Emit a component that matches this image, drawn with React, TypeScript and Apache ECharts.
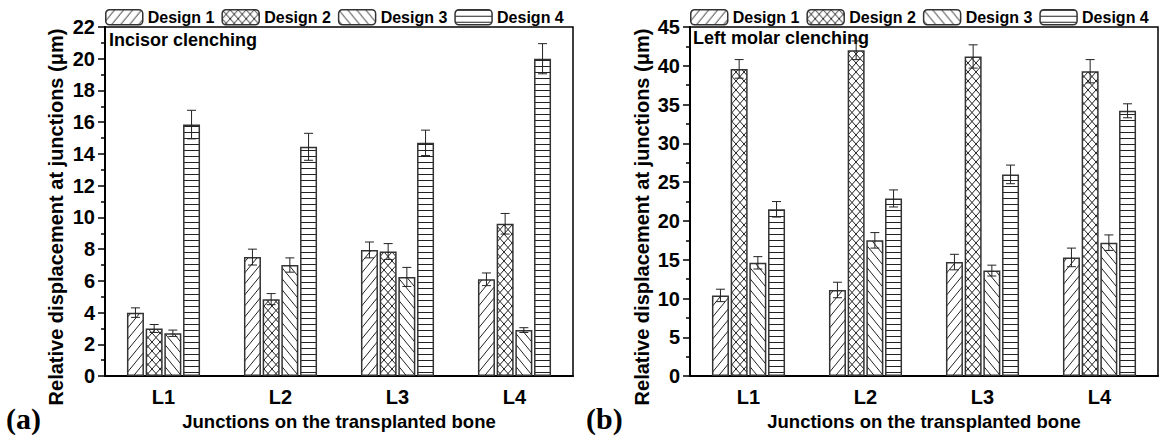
import React, { useEffect, useRef } from "react";
import * as echarts from "echarts";

const categories = ["L1", "L2", "L3", "L4"];
const designNames = ["Design 1", "Design 2", "Design 3", "Design 4"];

// Panel (a) Incisor clenching
const incisorD1 = [4.0, 7.5, 7.95, 6.1];
const incisorD2 = [3.0, 4.85, 7.85, 9.6];
const incisorD3 = [2.7, 7.0, 6.25, 2.9];
const incisorD4 = [15.85, 14.45, 14.7, 20.0];
const incisorErrD1 = [0.3, 0.5, 0.5, 0.4];
const incisorErrD2 = [0.25, 0.35, 0.5, 0.65];
const incisorErrD3 = [0.2, 0.45, 0.6, 0.15];
const incisorErrD4 = [0.9, 0.85, 0.8, 0.95];

// Panel (b) Left molar clenching
const molarD1 = [10.4, 11.1, 14.7, 15.3];
const molarD2 = [39.6, 42.0, 41.2, 39.3];
const molarD3 = [14.6, 17.5, 13.6, 17.2];
const molarD4 = [21.5, 22.9, 26.0, 34.2];
const molarErrD1 = [0.8, 1.0, 1.0, 1.2];
const molarErrD2 = [1.2, 1.2, 1.5, 1.5];
const molarErrD3 = [0.8, 1.0, 0.7, 1.0];
const molarErrD4 = [1.0, 1.1, 1.2, 0.9];

const yTitle = "Relative displacement at junctions (\u03bcm)";
const xTitle = "Junctions on the transplanted bone";

const FONT = "'Liberation Sans', Arial, Helvetica, sans-serif";
const SERIF = "'Liberation Serif', 'Times New Roman', serif";
const BAR_W = 17;
const BAR_GAP = 0.1;
const SPACING = BAR_W * (1 + BAR_GAP);

function makePattern(kind: string): HTMLCanvasElement {
  const c = document.createElement("canvas");
  let w = 9, h = 11;
  if (kind === "cross") { w = 8; h = 9; }
  if (kind === "horiz") { w = 6; h = 6; }
  c.width = w; c.height = h;
  const ctx = c.getContext("2d")!;
  ctx.fillStyle = "#fff";
  ctx.fillRect(0, 0, w, h);
  ctx.strokeStyle = "#222";
  ctx.lineWidth = 1;
  const fwd = () => {
    for (const o of [-w, 0, w]) {
      ctx.beginPath();
      ctx.moveTo(o, h);
      ctx.lineTo(o + w, 0);
      ctx.stroke();
    }
  };
  const back = () => {
    for (const o of [-w, 0, w]) {
      ctx.beginPath();
      ctx.moveTo(o, 0);
      ctx.lineTo(o + w, h);
      ctx.stroke();
    }
  };
  if (kind === "fwd") fwd();
  else if (kind === "back") back();
  else if (kind === "cross") { fwd(); back(); }
  else if (kind === "horiz") {
    ctx.beginPath();
    ctx.moveTo(0, 0.5);
    ctx.lineTo(w, 0.5);
    ctx.stroke();
  }
  return c;
}

export default function App() {
  const ref = useRef<HTMLDivElement>(null);
  useEffect(() => {
    if (!ref.current) return;
    const chart = echarts.init(ref.current, undefined, { renderer: "svg" });
    const patterns = ["fwd", "cross", "back", "horiz"].map((k) => ({
      image: makePattern(k),
      repeat: "repeat",
    }));

    const panels = [
      {
        values: [incisorD1, incisorD2, incisorD3, incisorD4],
        errs: [incisorErrD1, incisorErrD2, incisorErrD3, incisorErrD4],
        max: 22, interval: 2, left: 105,
      },
      {
        values: [molarD1, molarD2, molarD3, molarD4],
        errs: [molarErrD1, molarErrD2, molarErrD3, molarErrD4],
        max: 45, interval: 5, left: 690,
      },
    ];

    const series: any[] = [];
    panels.forEach((p, pi) => {
      p.values.forEach((vals, d) => {
        series.push({
          type: "bar",
          name: designNames[d],
          xAxisIndex: pi,
          yAxisIndex: pi,
          data: vals,
          barWidth: BAR_W,
          barGap: "10%",
          itemStyle: { color: patterns[d], borderColor: "#333", borderWidth: 1.5 },
          emphasis: { disabled: true },
        });
      });
      const errData: number[][] = [];
      p.values.forEach((vals, d) => {
        vals.forEach((v, ci) => errData.push([ci, v, p.errs[d][ci], d]));
      });
      series.push({
        type: "custom",
        xAxisIndex: pi,
        yAxisIndex: pi,
        z: 10,
        data: errData,
        renderItem: (params: any, api: any) => {
          const ci = api.value(0), v = api.value(1), e = api.value(2), d = api.value(3);
          const top = api.coord([ci, v + e]);
          const bot = api.coord([ci, v - e]);
          const x = top[0] + (d - 1.5) * SPACING;
          const cap = 4.5;
          const style = { stroke: "#222", lineWidth: 1 };
          return {
            type: "group",
            children: [
              { type: "line", shape: { x1: x, y1: top[1], x2: x, y2: bot[1] }, style },
              { type: "line", shape: { x1: x - cap, y1: top[1], x2: x + cap, y2: top[1] }, style },
              { type: "line", shape: { x1: x - cap, y1: bot[1], x2: x + cap, y2: bot[1] }, style },
            ],
          };
        },
      });
    });

    const option: any = {
      animation: false,
      backgroundColor: "#fff",
      textStyle: { fontFamily: FONT },
      grid: panels.map((p) => ({
        left: p.left, top: 27, width: 468, height: 351,
        show: true, borderColor: "#000", borderWidth: 1.5,
      })),
      legend: panels.map((p) => ({
        left: p.left, top: 9,
        padding: 0,
        width: 480,
        data: designNames,
        itemWidth: 37, itemHeight: 15, itemGap: 7,
        selectedMode: false,
        itemStyle: { borderColor: "#333", borderWidth: 1.5 },
        textStyle: { fontFamily: FONT, fontWeight: "bold", fontSize: 16, color: "#000" },
      })),
      xAxis: panels.map((p, pi) => ({
        type: "category",
        gridIndex: pi,
        data: categories,
        axisLine: { lineStyle: { color: "#000", width: 2 } },
        axisTick: { alignWithLabel: true, length: 6, lineStyle: { color: "#000", width: 1.5 } },
        axisLabel: { fontFamily: FONT, fontWeight: "bold", fontSize: 20, color: "#000", margin: 11 },
        name: xTitle,
        nameLocation: "middle",
        nameGap: 31,
        nameTextStyle: { fontFamily: FONT, fontWeight: "bold", fontSize: 18.5, color: "#000" },
      })),
      yAxis: panels.map((p, pi) => ({
        type: "value",
        gridIndex: pi,
        min: 0, max: p.max, interval: p.interval,
        splitLine: { show: false },
        axisLine: { show: true, lineStyle: { color: "#000", width: 2 } },
        axisTick: { show: true, length: 7, lineStyle: { color: "#000", width: 1.5 } },
        minorTick: { show: true, splitNumber: 2, length: 4, lineStyle: { color: "#000", width: 1.5 } },
        axisLabel: { fontFamily: FONT, fontWeight: "bold", fontSize: 20, color: "#000", margin: 10 },
      })),
      graphic: [
        { type: "text", x: 56, y: 217, rotation: Math.PI / 2, style: { text: yTitle, font: `bold 20px ${FONT}`, fill: "#000", align: "center", verticalAlign: "middle" } },
        { type: "text", x: 642, y: 217, rotation: Math.PI / 2, style: { text: yTitle, font: `bold 20px ${FONT}`, fill: "#000", align: "center", verticalAlign: "middle" } },
        { type: "text", left: 109, top: 31, style: { text: "Incisor clenching", font: `bold 18px ${FONT}`, fill: "#000" } },
        { type: "text", left: 693, top: 29, style: { text: "Left molar clenching", font: `bold 18px ${FONT}`, fill: "#000" } },
        { type: "text", left: 6, top: 403, style: { text: "(a)", font: `bold 30px ${SERIF}`, fill: "#000" } },
        { type: "text", left: 586, top: 403, style: { text: "(b)", font: `bold 30px ${SERIF}`, fill: "#000" } },
      ],
      series,
    };
    chart.setOption(option);
    return () => chart.dispose();
  }, []);
  return (
    <div
      ref={ref}
      style={{ position: "absolute", left: 0, top: 0, width: 1161, height: 436 }}
    />
  );
}
